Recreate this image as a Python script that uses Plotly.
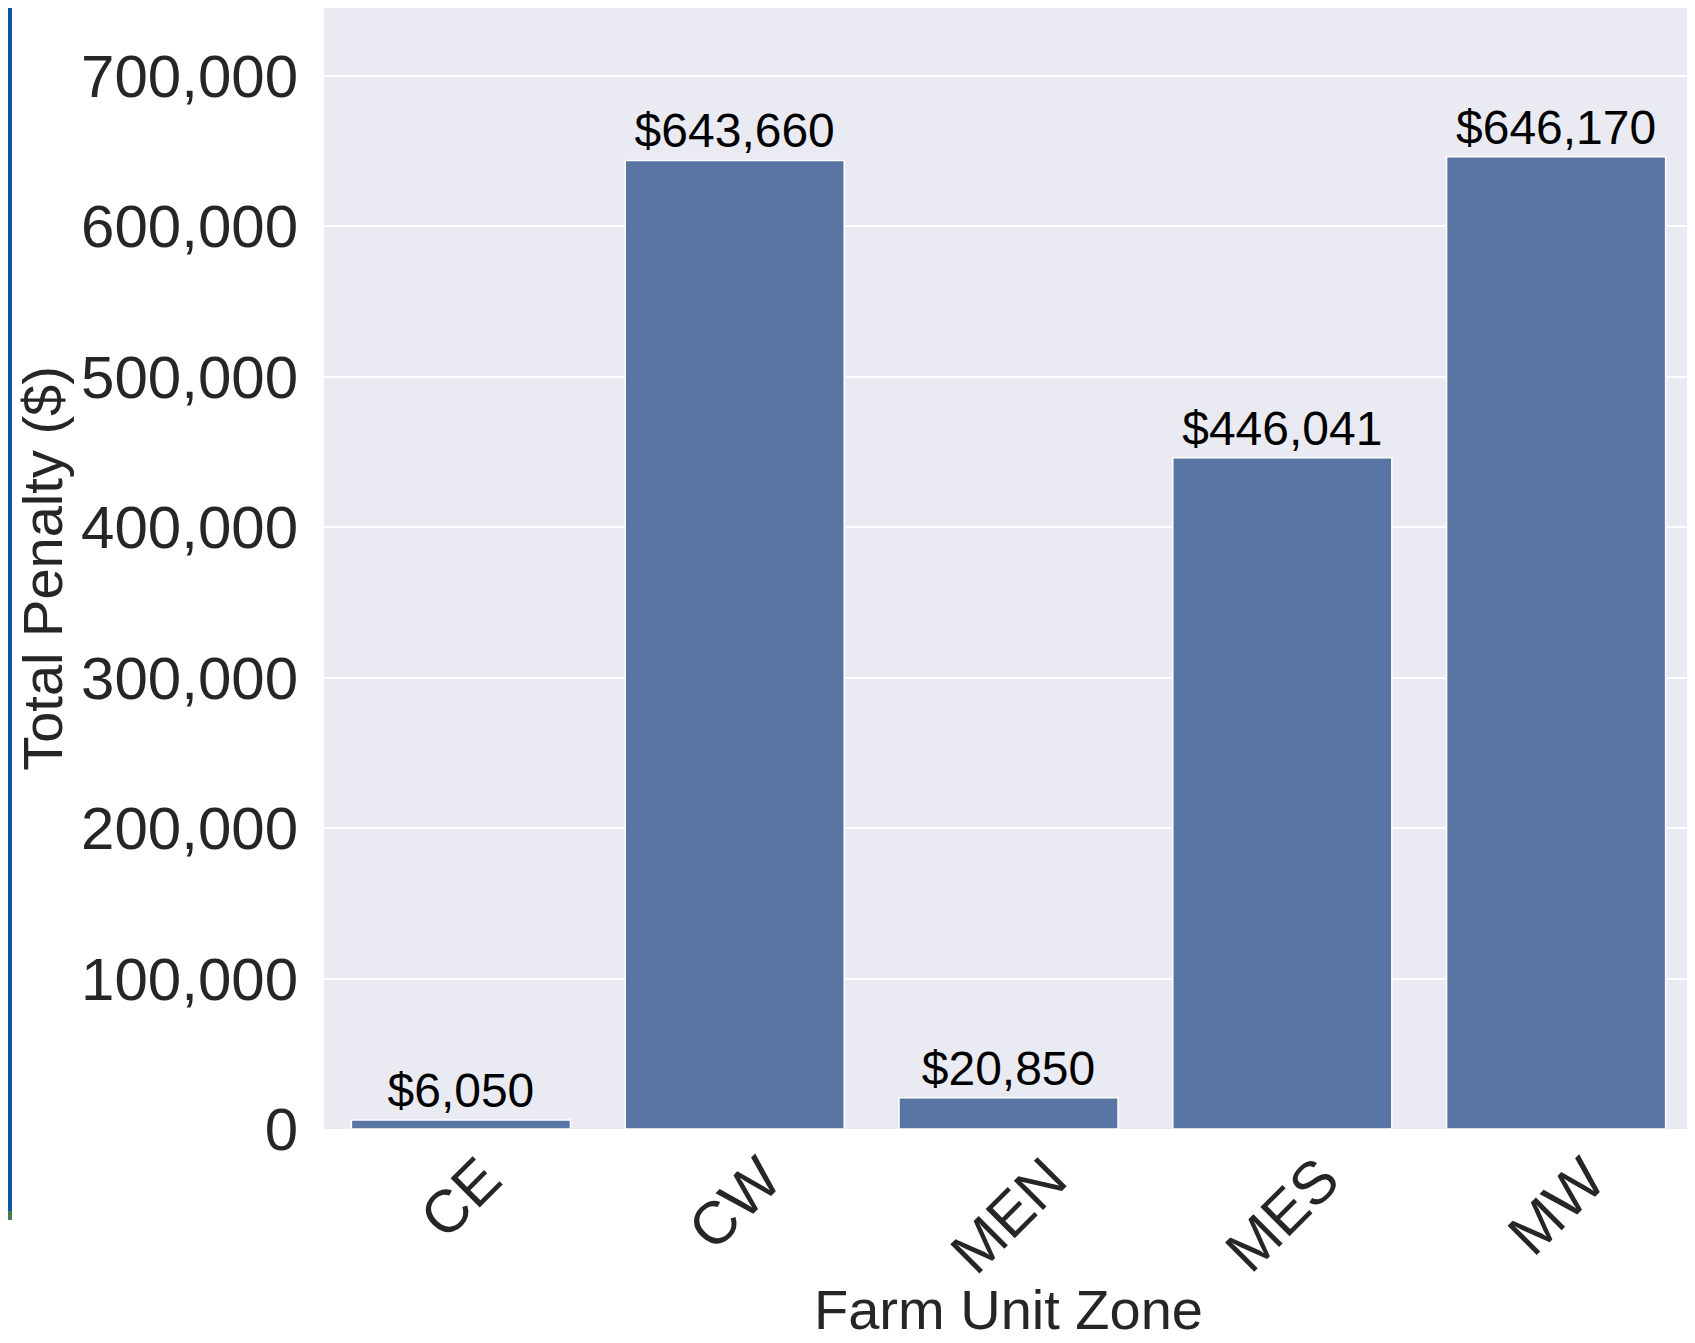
import plotly.graph_objects as go

zones = ["CE", "CW", "MEN", "MES", "MW"]
penalties = [6050, 643660, 20850, 446041, 646170]
y_ticks = [0, 100000, 200000, 300000, 400000, 500000, 600000, 700000]
y_tick_labels = ["0", "100,000", "200,000", "300,000", "400,000", "500,000", "600,000", "700,000"]

FONT = "Liberation Sans, Arial"
W, H = 1687, 1335
L, R, T, B = 316, 2, 0, 214
pw, ph = W - L - R, H - T - B

fig = go.Figure(go.Bar(
    x=zones, y=penalties,
    width=0.8,
    marker=dict(color="#5975a4", line=dict(color="#ffffff", width=1.5)),
    texttemplate="$%{y:,}",
    textposition="outside",
    textfont=dict(size=48, color="#000000", family=FONT),
    constraintext="none",
    cliponaxis=False,
))

def px_x(p):
    return (p - L) / pw

def px_y(p):
    return (H - B - p) / ph

annotations = []
for z in zones:
    annotations.append(dict(
        x=z, xref="x", y=0, yref="paper", yshift=-13,
        text=z, textangle=-45, showarrow=False,
        xanchor="center", yanchor="top",
        font=dict(size=60, color="#262626", family=FONT),
    ))
annotations.append(dict(
    x=0.5, xref="paper", y=0, yref="paper", yshift=-213,
    text="Farm Unit Zone", showarrow=False,
    xanchor="center", yanchor="bottom", borderpad=0,
    font=dict(size=56, color="#262626", family=FONT),
))

fig.update_layout(
    width=W, height=H,
    margin=dict(l=L, r=R, t=T, b=B, autoexpand=False),
    paper_bgcolor="white",
    plot_bgcolor="#eaeaf2",
    font=dict(family=FONT, color="#262626"),
    showlegend=False,
    xaxis=dict(
        range=[-0.5, 4.5],
        showticklabels=False,
        showgrid=False,
        zeroline=False,
        ticks="",
        automargin=False,
    ),
    yaxis=dict(
        range=[0, 745000],
        tickvals=y_ticks,
        ticktext=y_tick_labels,
        tickfont=dict(size=60),
        showgrid=True, gridcolor="#ffffff", gridwidth=2,
        zeroline=False,
        ticks="",
        ticklabelstandoff=25,
        title=dict(text="Total Penalty ($)", font=dict(size=56), standoff=0),
        automargin=False,
    ),
    annotations=annotations,
    shapes=[
        dict(type="rect", xref="paper", yref="paper",
             x0=px_x(0), x1=px_x(4), y0=px_y(1203), y1=px_y(0),
             fillcolor="#0b57a6", line=dict(width=0), layer="above"),
        dict(type="rect", xref="paper", yref="paper",
             x0=px_x(0), x1=px_x(4), y0=px_y(1212), y1=px_y(1203),
             fillcolor="#4a7a52", line=dict(width=0), layer="above"),
    ],
)

fig.write_html("out.html")
